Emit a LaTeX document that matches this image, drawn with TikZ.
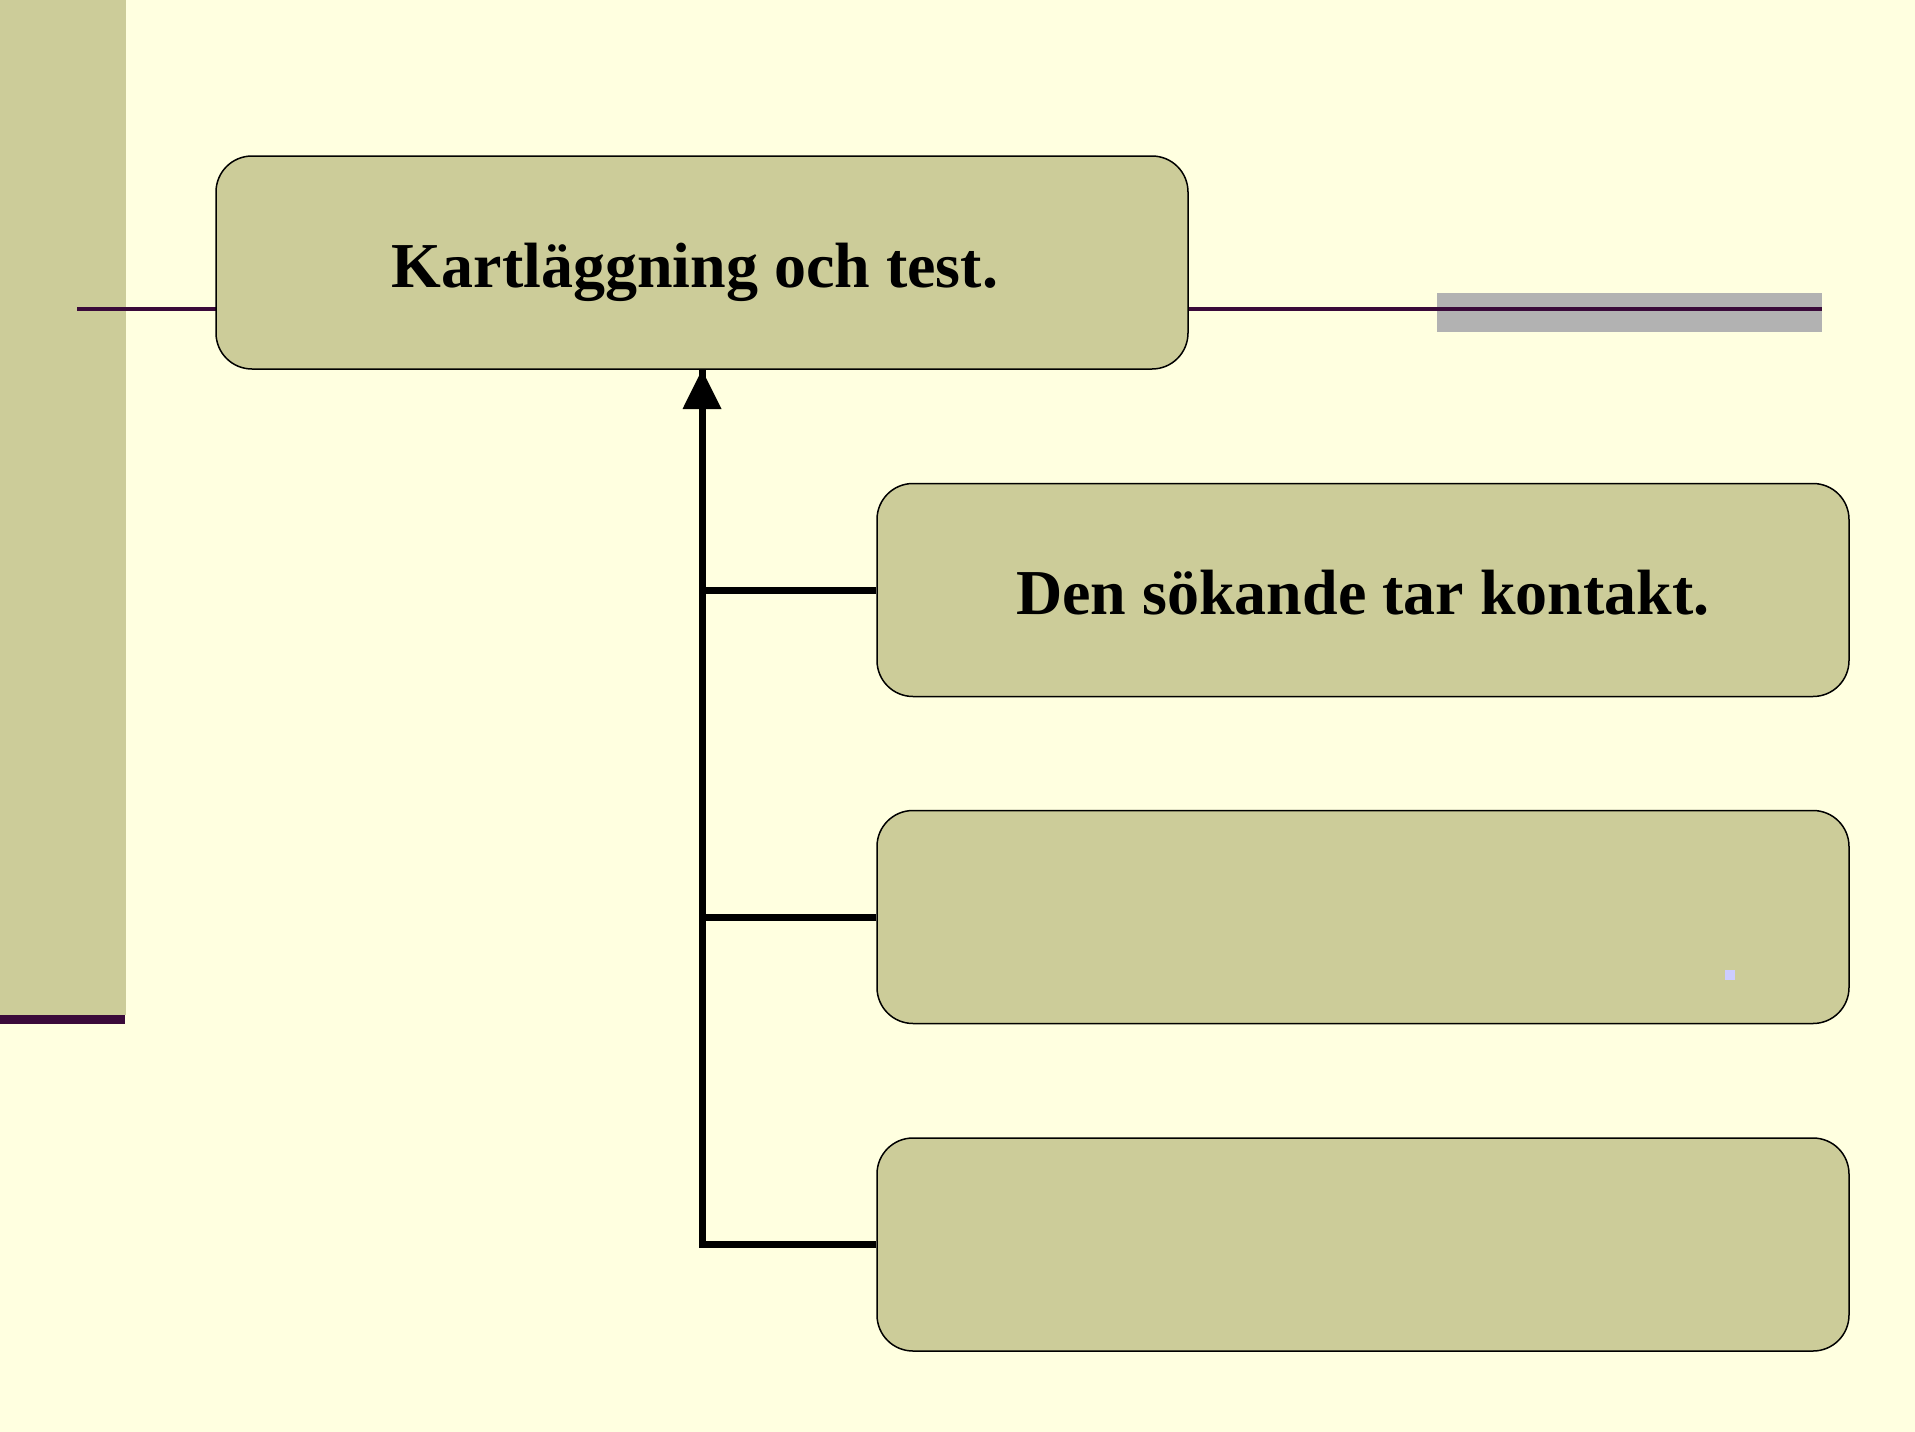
\documentclass[tikz,border=0pt]{standalone}
\usepackage{fontspec}
\setmainfont{Liberation Serif}
\usetikzlibrary{arrows.meta}
\definecolor{bg}{HTML}{FFFFE0}
\definecolor{olive}{HTML}{CCCC99}
\definecolor{plum}{HTML}{3A0A3A}
\definecolor{grayband}{HTML}{B2B2B2}
\definecolor{dotblue}{HTML}{CCCCFF}
\tikzset{
  box/.style={draw=black, line width=1.5pt, fill=olive, rounded corners=36pt, minimum width=972pt, minimum height=213pt, inner sep=0pt},
  boxtext/.style={inner sep=0pt, font=\fontsize{64}{70}\selectfont\bfseries},
  conn/.style={draw=black, line width=7pt},
}
\begin{document}
\begin{tikzpicture}[x=1pt,y=-1pt]
\useasboundingbox (0,0) rectangle (1915,1432);
\fill[bg] (0,0) rectangle (1915,1432);
% left bar
\fill[olive] (0,0) rectangle (126,1015);
\fill[plum] (0,1015) rectangle (125,1024);
% gray band and line
\fill[grayband] (1437,293) rectangle (1822,332);
\draw[plum, line width=4.3pt] (77,309) -- (1822,309);
% boxes
\node[box] (top) at (702,262.5) {};
\node[boxtext] (toptext) at (695,272) {Kartläggning och test.};
\node[box] (b1) at (1363,590) {};
\node[boxtext] (b1text) at (1363,593) {Den sökande tar kontakt.};
\node[box] (b2) at (1363,917) {};
\node[box] (b3) at (1363,1244.5) {};
% connectors
\coordinate (j1) at (702,590);
\coordinate (j2) at (702,917);
\coordinate (j3) at (702,1244.5);
\draw[conn, line join=miter] (b3.west) -- (j3) -- (j3 |- top.south);
\draw[conn] (b1.west) -- (j1);
\draw[conn] (b2.west) -- (j2);
\fill[black] (top.south) -- (682.5,409) -- (721.5,409) -- cycle;
% small dot
\fill[dotblue] (1725,970) rectangle (1735,980);
\end{tikzpicture}
\end{document}
